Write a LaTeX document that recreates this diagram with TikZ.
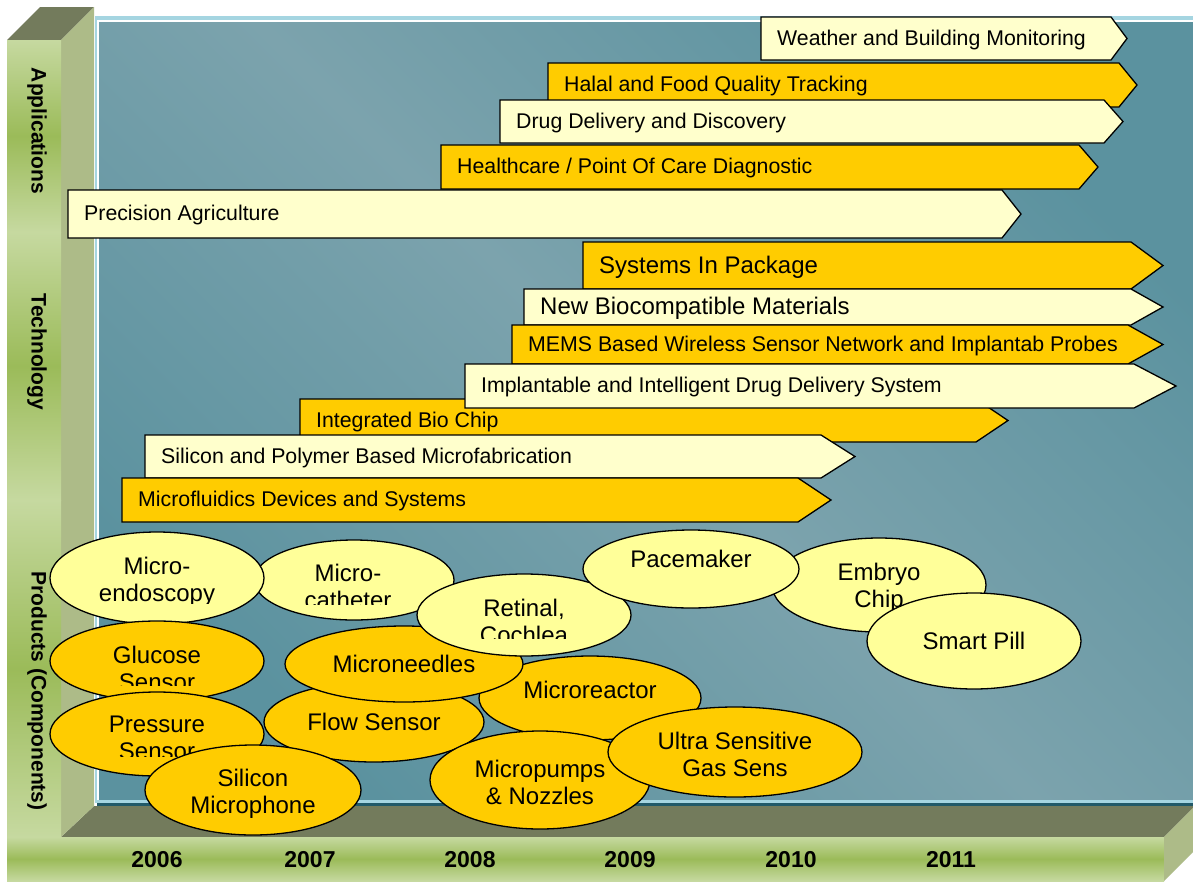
\documentclass[tikz,border=0pt]{standalone}
\usepackage{fontspec}
\setmainfont{Liberation Sans}
\usetikzlibrary{shapes.geometric}
\definecolor{lightarr}{HTML}{FFFFCC}
\definecolor{lightell}{HTML}{FFFF99}
\definecolor{gold}{HTML}{FFCC00}
\definecolor{floorc}{HTML}{737B5C}
\definecolor{sidec}{HTML}{ADBB88}
\definecolor{flight}{HTML}{C6D9A0}
\definecolor{fgreen}{HTML}{9BBB59}
\definecolor{cyanb}{HTML}{A5D5E1}
\definecolor{darkteal}{HTML}{215968}
\definecolor{panlight}{HTML}{7CA3AD}
\definecolor{pandark}{HTML}{5B929F}
\newcommand\sigarrow[9]{%
  \filldraw[arrowshape, fill=#7] (#2,#3) -- (#4,#3) -- (#5,{(#3+#6)/2}) -- (#4,#6) -- (#2,#6) -- cycle;
  \node[arrowtext, font=\fontsize{#8}{#8}\selectfont] (#1) at ({#2+16},{(#3+#6)/2-1+0.36*#8}) {#9};}
\begin{document}
\begin{tikzpicture}[x=1pt,y=-1pt,
  arrowshape/.style={draw=black, line width=1.3pt, line join=miter},
  arrowtext/.style={anchor=base west, inner sep=0pt, text=black},
  ell/.style={ellipse, draw=black, line width=1.3pt, inner sep=0pt, outer sep=0pt},
  elltext/.style={align=center, inner sep=0pt, text=black, font=\fontsize{24}{27}\selectfont},
  barlabel/.style={rotate=-90, font=\bfseries\fontsize{21}{21}\selectfont, inner sep=0pt},
  year/.style={font=\bfseries\fontsize{23}{23}\selectfont, inner sep=0pt}]
\useasboundingbox (0,0) rectangle (1193,881);
\fill[white] (0,0) rectangle (1193,881);
% back panel
\fill[cyanb] (95,16) rectangle (1193,803);
\fill[white] (97,19.5) rectangle (1193,801);
\shade[top color=pandark, bottom color=pandark, middle color=panlight, shading angle=-45] (99,22) rectangle (1193,801);
\fill[cyanb] (97,800) rectangle (1193,803);
\fill[darkteal] (97,803) rectangle (1193,808);
% floor
\fill[floorc] (94,806) -- (1193,806) -- (1193,808) -- (1164,837) -- (61,837) -- cycle;
% left bar
\fill[floorc] (7,40) -- (61,40) -- (94,7) -- (40,7) -- cycle;
\fill[sidec] (61,40) -- (94,7) -- (94,806) -- (61,837) -- cycle;
\shade[top color=flight, bottom color=flight, middle color=fgreen] (7,40) rectangle (61,232);
\shade[top color=flight, bottom color=flight, middle color=fgreen] (7,232) rectangle (61,500);
\shade[top color=flight, bottom color=flight, middle color=fgreen] (7,500) rectangle (61,837);
\node[barlabel] (lapp) at (37,131) {Applications};
\node[barlabel] (ltech) at (37,352) {Technology};
\node[barlabel] (lprod) at (37,691) {Products (Components)};
% bottom bar
\shade[top color=flight, bottom color=flight, middle color=fgreen] (7,837) rectangle (1164,881);
\fill[sidec] (1164,837) -- (1193,808) -- (1193,852) -- (1164,881) -- cycle;
\node[year] (y2006) at (157,860) {2006};
\node[year] (y2007) at (310,860) {2007};
\node[year] (y2008) at (470,860) {2008};
\node[year] (y2009) at (630,860) {2009};
\node[year] (y2010) at (791,860) {2010};
\node[year] (y2011) at (951,860) {2011};
% application arrows
\sigarrow{a1}{761}{17}{1111}{1127}{60}{lightarr}{21.3}{Weather and Building Monitoring}
\sigarrow{a2}{548}{63}{1119}{1137}{107}{gold}{21.3}{Halal and Food Quality Tracking}
\sigarrow{a3}{500}{100}{1104}{1123}{143}{lightarr}{21.3}{Drug Delivery and Discovery}
\sigarrow{a4}{441}{145}{1079}{1098}{189}{gold}{21.3}{Healthcare / Point Of Care Diagnostic}
\sigarrow{a5}{68}{190}{1002}{1021}{238}{lightarr}{21.3}{Precision Agriculture}
% technology arrows
\sigarrow{t5}{300}{399}{976}{1008}{442}{gold}{21.3}{Integrated Bio Chip}
\sigarrow{t1}{583}{242}{1131}{1163}{289}{gold}{24}{Systems In Package}
\sigarrow{t2}{524}{289}{1131}{1163}{325}{lightarr}{24}{New Biocompatible Materials}
\sigarrow{t3}{512}{325}{1128}{1163}{364}{gold}{21.3}{MEMS Based Wireless Sensor Network and Implantab Probes}
\sigarrow{t4}{465}{364}{1134}{1176}{408}{lightarr}{21.3}{Implantable and Intelligent Drug Delivery System}
\sigarrow{t6}{145}{435}{821}{855}{478}{lightarr}{21.3}{Silicon and Polymer Based Microfabrication}
\sigarrow{t7}{122}{478}{798}{831}{522}{gold}{21.3}{Microfluidics Devices and Systems}
% products
\node[ell, fill=lightell, minimum width=200pt, minimum height=80pt] (pcath) at (354,580) {};
\begin{scope}\clip (254,540) rectangle (454,604);
\node[elltext] (pcatht) at (348,586) {Micro-\\catheter};\end{scope}
\node[ell, fill=lightell, minimum width=214pt, minimum height=92pt] (pendo) at (157,578) {};
\begin{scope}\clip (50,532) rectangle (264,603);
\node[elltext] (pendot) at (157,582) {Micro-\\endoscopy};\end{scope}
\node[ell, fill=gold, minimum width=214pt, minimum height=80pt] (pgluc) at (157,661) {};
\begin{scope}\clip (50,621) rectangle (264,685);
\node[elltext] (pgluct) at (157,668) {Glucose\\Sensor};\end{scope}
\node[ell, fill=gold, minimum width=214pt, minimum height=84pt] (ppres) at (157,734) {};
\begin{scope}\clip (50,692) rectangle (264,756);
\node[elltext] (pprest) at (157,738) {Pressure\\Sensor};\end{scope}
\node[ell, fill=gold, minimum width=222pt, minimum height=84pt] (preac) at (590,698) {};
\node[elltext] (preact) at (590,690) {Microreactor};
\node[ell, fill=gold, minimum width=220pt, minimum height=80pt] (pflow) at (374,722) {};
\node[elltext] (pflowt) at (374,722) {Flow Sensor};
\node[ell, fill=gold, minimum width=238pt, minimum height=76pt] (pneed) at (404,664) {};
\node[elltext] (pneedt) at (404,664) {Microneedles};
\node[ell, fill=lightell, minimum width=214pt, minimum height=82pt] (pret) at (524,615) {};
\begin{scope}\clip (417,574) rectangle (631,638);
\node[elltext] (prett) at (524,621) {Retinal,\\Cochlea};\end{scope}
\node[ell, fill=lightell, minimum width=214pt, minimum height=94pt] (pemb) at (879,585) {};
\node[elltext] (pembt) at (879,588) {Embryo\\Chip};
\node[ell, fill=lightell, minimum width=216pt, minimum height=78pt] (ppace) at (691,569) {};
\node[elltext] (ppacet) at (691,559) {Pacemaker};
\node[ell, fill=lightell, minimum width=214pt, minimum height=96pt] (psmart) at (974,641) {};
\node[elltext] (psmartt) at (974,641) {Smart Pill};
\node[ell, fill=gold, minimum width=216pt, minimum height=90pt] (psil) at (253,790) {};
\node[elltext] (psilt) at (253,794) {Silicon\\Microphone};
\node[ell, fill=gold, minimum width=220pt, minimum height=98pt] (ppump) at (540,780) {};
\node[elltext] (ppumpt) at (540,782) {Micropumps\\\& Nozzles};
\node[ell, fill=gold, minimum width=254pt, minimum height=90pt] (pgas) at (735,752) {};
\node[elltext] (pgast) at (735,754) {Ultra Sensitive\\Gas Sens};
\end{tikzpicture}
\end{document}
